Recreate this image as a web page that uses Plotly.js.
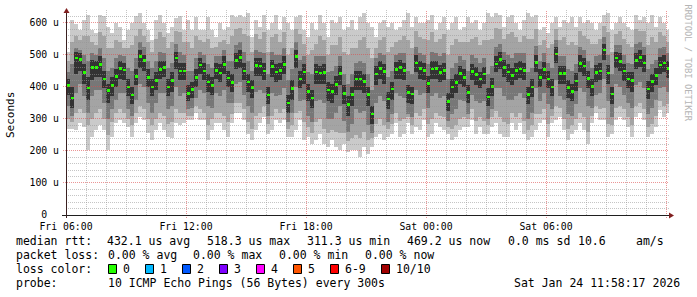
<!DOCTYPE html>
<html><head><meta charset="utf-8">
<script src="https://cdn.plot.ly/plotly-3.0.1.min.js"></script>
<style>html,body{margin:0;padding:0;background:#fff;}#chart{width:697px;height:297px;}</style>
</head><body><div id="chart"></div>
<script>
// ---------- data ----------
const startTime = Date.UTC(2026, 0, 23, 6, 0, 0);   // Fri 06:00
const stepMinutes = 12;
const median = [405,365,490,485,445,396,460,460,470,425,388,405,432,458,453,400,375,433,495,482,430,400,420,455,460,400,420,490,449,450,
380,392,430,468,450,415,405,451,444,470,428,413,483,492,449,415,398,467,465,450,375,463,446,452,470,350,395,494,425,446,
385,365,446,443,445,390,385,408,442,380,345,376,425,425,417,376,315,440,458,448,362,393,455,460,452,383,378,475,457,451,
410,456,457,445,452,355,400,413,442,430,383,448,438,424,440,369,402,472,485,460,447,435,452,456,451,376,399,476,430,455,
425,400,503,441,441,398,385,418,473,465,426,402,445,450,515,443,378,490,480,449,424,420,482,491,474,394,416,436,468,475,458];
const pingMax = [510,610,595,578,610,625,578,568,625,620,588,567,598,588,546,578,598,620,630,598,578,546,610,625,598,567,588,614,620,578,
609,577,619,577,577,619,577,557,598,577,588,624,619,624,619,630,557,609,588,624,577,598,624,577,619,598,577,619,624,577,
557,598,577,624,598,557,609,598,619,577,588,609,577,619,630,598,588,557,598,609,588,598,577,588,609,630,588,619,598,598,
609,624,577,598,619,577,598,619,577,588,619,598,609,577,598,630,619,630,624,588,619,624,598,577,609,630,619,624,577,588,
567,598,619,588,609,598,619,588,619,598,609,598,577,598,624,630,577,598,619,598,588,577,624,609,619,598,624,588,619,598,577];
const pingMin = [270,270,265,286,275,202,244,265,280,265,202,244,286,296,286,275,244,286,307,296,255,234,265,286,265,244,239,286,280,286,
296,296,317,296,296,234,265,286,286,265,244,286,317,317,296,254,234,265,286,307,254,265,296,286,296,244,244,265,296,234,
244,223,234,254,223,213,234,213,202,223,197,202,202,182,213,192,213,244,254,234,244,254,286,244,254,286,254,275,265,296,
244,254,286,275,265,254,234,244,265,275,275,296,254,275,254,254,275,286,254,244,244,286,265,286,254,234,244,265,286,296,
244,286,296,307,265,234,254,265,286,265,223,286,317,296,296,244,254,296,307,296,275,244,307,317,296,244,254,275,327,307,317];
const smokeHi2 = [480,540,560,545,560,560,540,530,570,560,520,520,545,540,520,520,530,560,580,560,540,510,550,570,555,520,540,575,570,540,
540,520,560,545,540,550,520,525,540,545,535,560,580,585,565,560,510,565,550,570,510,555,565,540,570,500,520,580,565,535,
500,515,535,560,545,500,530,530,555,510,500,520,520,545,555,520,490,520,545,555,510,525,540,545,560,545,520,575,555,550,
545,570,540,550,565,500,530,550,540,540,540,550,555,530,545,545,550,585,580,550,565,570,555,540,560,550,550,580,530,545,
520,535,580,545,555,530,540,530,575,560,550,535,535,550,590,570,510,565,575,550,535,525,580,575,575,530,555,540,570,560,540];
const smokeHi3 = [445,470,520,515,500,480,505,500,520,490,450,460,490,500,495,460,450,490,540,525,480,460,480,510,505,460,475,535,510,500,
450,450,490,510,500,470,460,495,495,515,480,480,530,540,510,480,450,515,510,505,440,510,500,500,520,420,455,540,485,495,
445,440,495,495,495,445,450,465,495,440,410,440,475,480,475,440,390,490,505,500,430,450,500,505,505,450,440,525,505,500,
470,510,505,495,505,425,460,475,495,485,450,500,490,475,490,440,465,525,535,510,500,490,505,505,505,445,460,528,480,505,
475,460,545,495,495,455,450,470,525,515,480,460,495,500,555,500,440,530,530,500,475,470,535,540,525,455,470,485,520,525,505];
const smokeHi4 = [425,400,510,505,470,430,485,480,495,450,410,430,455,480,475,425,400,455,515,500,455,425,445,480,480,425,445,510,475,475,
405,415,455,490,475,440,430,475,470,495,450,440,505,515,475,440,420,490,490,475,400,485,470,475,495,375,420,515,450,470,
410,390,470,465,470,415,410,435,465,405,370,400,450,450,440,400,340,465,480,470,385,415,478,485,475,405,400,500,480,475,
435,480,480,468,475,380,425,440,465,455,405,472,462,448,462,395,428,497,510,485,470,458,475,480,475,400,425,500,455,478,
450,425,525,465,465,422,410,442,498,490,450,425,468,475,535,468,400,510,505,472,448,445,507,515,498,418,440,460,492,500,480];
const smokeLo4 = [375,335,440,450,410,360,420,430,430,395,350,370,400,425,420,370,345,405,460,450,400,370,390,425,430,370,385,455,420,420,
355,365,400,440,420,385,375,425,415,440,400,385,455,460,420,385,365,435,435,420,345,430,415,420,440,320,360,460,395,410,
355,335,410,410,410,355,350,375,405,345,310,340,390,390,380,340,285,405,425,410,330,360,425,425,420,350,345,445,425,420,
380,425,425,415,420,325,365,380,410,400,350,420,405,395,410,340,370,445,455,430,415,405,420,428,420,345,368,448,400,425,
395,370,475,410,410,365,355,388,445,435,395,372,415,420,485,410,345,460,450,418,395,385,455,462,445,362,385,405,440,445,428];
const smokeLo3 = [340,310,380,410,370,320,370,390,390,350,300,330,360,380,380,330,310,360,410,400,350,320,350,380,380,330,340,400,370,380,
330,335,365,390,380,340,335,380,370,390,350,350,410,415,375,340,320,385,390,380,310,380,370,375,395,290,320,400,355,360,
310,290,355,360,350,300,300,320,340,295,260,285,330,320,325,280,255,350,370,355,290,315,380,370,365,315,305,390,375,380,
335,370,380,365,370,295,315,330,360,355,315,375,355,350,355,300,330,395,395,370,360,360,370,380,365,300,320,395,355,380,
345,330,420,370,360,315,310,345,395,385,340,335,375,380,425,355,305,410,400,375,350,335,405,415,395,315,335,360,395,400,385];
const smokeLo2 = [300,290,320,330,320,280,300,320,330,300,250,290,320,330,320,300,280,320,340,330,300,280,300,320,310,285,290,330,320,320,
310,310,340,330,320,280,300,320,320,310,290,315,350,350,330,290,270,310,320,340,285,310,330,320,330,270,280,320,325,290,
275,255,290,300,270,255,265,260,255,255,230,240,250,240,260,235,240,285,300,280,270,285,320,295,300,305,280,320,310,330,
285,300,320,310,305,275,270,280,300,305,300,330,295,305,295,280,305,325,305,290,285,320,305,320,295,265,280,315,315,330,
285,310,340,335,300,270,280,300,320,305,260,310,340,330,335,285,280,335,340,330,305,280,340,350,330,275,285,310,355,340,345];

const xTickVals = ['2026-01-23 06:00:00', '2026-01-23 12:00:00', '2026-01-23 18:00:00', '2026-01-24 00:00:00', '2026-01-24 06:00:00'];
const xTickText = ['Fri 06:00', 'Fri 12:00', 'Fri 18:00', 'Sat 00:00', 'Sat 06:00'];
const yTickVals = [0, 100, 200, 300, 400, 500, 600];
const yTickText = ['0\u00a0\u00a0', '100 u', '200 u', '300 u', '400 u', '500 u', '600 u'];
const rttLabel = 'median rtt:';
const rttStats = ['432.1 us avg', '518.3 us max', '311.3 us min', '469.2 us now', '0.0 ms sd', '10.6', 'am/s'];
const lossLabel = 'packet loss:';
const lossStats = ['0.00 % avg', '0.00 % max', '0.00 % min', '0.00 % now'];
const colorLabel = 'loss color:';
const lossNames = ['0', '1', '2', '3', '4', '5', '6-9', '10/10'];
const lossColors = ['#26ff00', '#00b8ff', '#0059ff', '#7e00ff', '#ff00ff', '#ff5500', '#ff0000', '#a10000'];
const probeLabel = 'probe:';
const probeText = '10 ICMP Echo Pings (56 Bytes) every 300s';
const stampText = 'Sat Jan 24 11:58:17 2026';
const yTitle = 'Seconds';
const watermark = 'RRDTOOL / TOBI OETIKER';

// ---------- layout geometry ----------
const W = 697, H = 297, L = 66, R = 669, T = 10, B = 215;
const Y_MAX = 640;
const X_START = '2026-01-23 06:00:00', X_END = '2026-01-24 12:09:00';
const xStartMs = startTime, xEndMs = Date.UTC(2026, 0, 24, 12, 9, 0);
const px = x => (x - L) / (R - L);
const py = y => (B - y) / (B - T);
const timeToPx = t => L + (t - xStartMs) / (xEndMs - xStartMs) * (R - L);
const valToPx = v => B - v / Y_MAX * (B - T);
const MONO = 'DejaVu Sans Mono, monospace';

const stepMs = stepMinutes * 60000;
const xs = median.map((_, i) => startTime + i * stepMs + stepMs / 2);

function band(lo, hi, color) {
  return {type: 'bar', x: xs, base: lo, y: hi.map((h, i) => h - lo[i]), width: stepMs,
          marker: {color: color, line: {width: 0}}, hoverinfo: 'skip', showlegend: false};
}
const traces = [
  band(pingMin, pingMax, '#cacaca'),
  band(smokeLo2, smokeHi2, '#a4a4a4'),
  band(smokeLo3, smokeHi3, '#777777'),
  band(smokeLo4, smokeHi4, '#333333'),
  {type: 'bar', x: xs, base: median.map(m => m - 4), y: median.map(() => 8), width: stepMs * 0.75,
   marker: {color: lossColors[0], line: {width: 0}}, hoverinfo: 'skip', showlegend: false}
];

// ---------- grid, axes and arrows as shapes (drawn above the smoke like rrdtool) ----------
const shapes = [];
const minorCol = 'rgba(150,150,150,0.55)', majorCol = 'rgba(222,79,79,0.6)';
for (let h = 0; h <= 30; h++) {
  const xp = Math.round(timeToPx(xStartMs + h * 3600000)) + 0.5;
  const major = h % 6 === 0;
  shapes.push({type: 'line', xref: 'paper', yref: 'paper', layer: 'above',
    x0: px(xp), x1: px(xp), y0: py(B + (major ? 3 : 0)), y1: py(T),
    line: {color: major ? majorCol : minorCol, width: 1, dash: '1px,1px'}});
}
for (let v = 20; v < Y_MAX; v += 20) {
  const yp = Math.floor(valToPx(v)) + 0.5;
  const major = v % 100 === 0;
  shapes.push({type: 'line', xref: 'paper', yref: 'paper', layer: 'above',
    x0: px(major ? L - 3 : L), x1: px(R), y0: py(yp), y1: py(yp),
    line: {color: major ? majorCol : minorCol, width: 1, dash: '1px,1px'}});
}
// axes
shapes.push({type: 'line', xref: 'paper', yref: 'paper', layer: 'above',
  x0: px(62), x1: px(R), y0: py(B + 0.5), y1: py(B + 0.5), line: {color: '#1f1f1f', width: 1}});
shapes.push({type: 'line', xref: 'paper', yref: 'paper', layer: 'above',
  x0: px(L + 0.5), x1: px(L + 0.5), y0: py(B + 3), y1: py(12), line: {color: '#3a2020', width: 1}});
// arrows
const arrowPath = pts => 'M ' + pts.map(p => px(p[0]) + ',' + py(p[1])).join(' L ') + ' Z';
shapes.push({type: 'path', xref: 'paper', yref: 'paper', layer: 'above',
  path: arrowPath([[63.5, 13], [66.5, 8], [69.5, 13]]), fillcolor: '#801f1f', line: {width: 0}});
shapes.push({type: 'path', xref: 'paper', yref: 'paper', layer: 'above',
  path: arrowPath([[669, 212.5], [674, 215.5], [669, 218.5]]), fillcolor: '#801f1f', line: {width: 0}});

// ---------- legend / texts ----------
const annotations = [];
const FS = 11.5;
function txt(text, x, y, opts) {
  opts = opts || {};
  const anchor = opts.anchor || 'left';
  const dx = anchor === 'left' ? -2 : (anchor === 'right' ? 2 : 0);
  annotations.push({text: text, xref: 'paper', yref: 'paper', x: px(x + dx), y: py(y),
    xanchor: anchor, yanchor: 'middle', showarrow: false, textangle: opts.angle || 0,
    font: {family: MONO, size: opts.size || FS, color: opts.color || '#000'}});
}
const line1 = 241, line2 = 255, line3 = 269, line4 = 283;
const rttX = [107, 207, 307, 407, 507.5, 578, 636];
const lossX = [107.5, 193, 279, 365];
txt(rttLabel, 16, line1);
rttStats.forEach((s, i) => txt(s, rttX[i], line1));
txt(lossLabel, 16, line2);
lossStats.forEach((s, i) => txt(s, lossX[i], line2));
txt(colorLabel, 16, line3);
let bx = 108;
lossNames.forEach((n, i) => {
  shapes.push({type: 'rect', xref: 'paper', yref: 'paper', layer: 'above',
    x0: px(bx + 0.5), x1: px(bx + 8.5), y0: py(line3 - 4.5), y1: py(line3 + 4.5),
    fillcolor: lossColors[i], line: {color: '#000', width: 1}});
  txt(n, bx + 15, line3);
  bx += 15 + n.length * 7 + 15;
});
txt(probeLabel, 16, line4);
txt(probeText, 107.5, line4);
txt(stampText, 680, line4, {anchor: 'right'});
annotations.push({text: yTitle, xref: 'paper', yref: 'paper', x: px(10), y: py(115),
  xanchor: 'center', yanchor: 'middle', showarrow: false, textangle: -90,
  font: {family: MONO, size: 11, color: '#000'}});
annotations.push({text: watermark, xref: 'paper', yref: 'paper', x: px(687.5), y: py(63),
  xanchor: 'center', yanchor: 'middle', showarrow: false, textangle: 90,
  font: {family: MONO, size: 8.8, color: '#b4b4b4'}});

const layout = {
  width: W, height: H, autosize: false,
  margin: {l: L, r: W - R, t: T, b: H - B, pad: 0},
  paper_bgcolor: '#ffffff', plot_bgcolor: '#ffffff',
  barmode: 'overlay', bargap: 0, hovermode: false, showlegend: false,
  xaxis: {type: 'date', range: [X_START, X_END], showgrid: false, zeroline: false, showline: false,
    tickmode: 'array', tickvals: xTickVals, ticktext: xTickText, ticks: '',
    ticklabelstandoff: 4, tickfont: {family: MONO, size: 9.8, color: '#000'}, fixedrange: true},
  yaxis: {range: [0, Y_MAX], showgrid: false, zeroline: false, showline: false,
    tickmode: 'array', tickvals: yTickVals, ticktext: yTickText, ticks: '',
    ticklabelstandoff: 6, tickfont: {family: MONO, size: 9.8, color: '#000'}, fixedrange: true},
  shapes: shapes, annotations: annotations
};
Plotly.newPlot('chart', traces, layout, {staticPlot: true, displayModeBar: false});
</script></body></html>
